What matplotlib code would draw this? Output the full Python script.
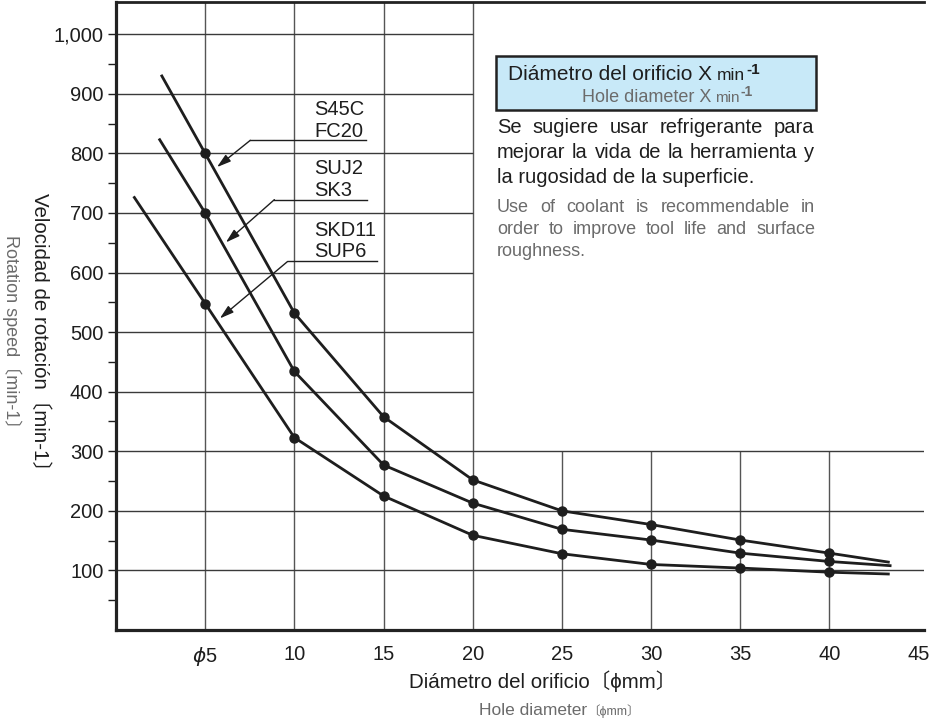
import matplotlib
matplotlib.use("Agg")
import matplotlib.pyplot as plt
from matplotlib.patches import Rectangle
from matplotlib.ticker import FixedLocator, FuncFormatter

plt.rcParams['font.family'] = ['Liberation Sans', 'DejaVu Sans', 'Noto Sans CJK JP']
plt.rcParams['mathtext.fontset'] = 'dejavusans'

# hole diameter (mm) -> rotation speed (min-1); first/last points are line ends without a dot
hole_s45c = [2.57, 5, 10, 15, 20, 25, 30, 35, 40, 43.3]
speed_s45c = [930, 800, 532, 358, 252, 200, 177, 151, 129, 114]
hole_suj2 = [2.45, 5, 10, 15, 20, 25, 30, 35, 40, 43.4]
speed_suj2 = [823, 700, 434, 277, 213, 169, 151, 129, 115, 108]
hole_skd11 = [1.03, 5, 10, 15, 20, 25, 30, 35, 40, 43.3]
speed_skd11 = [726, 548, 323, 225, 159, 128, 110, 104, 97, 94]

series_names = [["S45C", "FC20"], ["SUJ2", "SK3"], ["SKD11", "SUP6"]]

x_ticks = [5, 10, 15, 20, 25, 30, 35, 40, 45]
x_ticklabels = [r"$\phi$5", "10", "15", "20", "25", "30", "35", "40", "45"]
y_ticks = [100, 200, 300, 400, 500, 600, 700, 800, 900, 1000]
y_minor = [50, 150, 250, 350, 450, 550, 650, 750, 850, 950]

W, H = 937, 718
XMAX, YMAX = 45.3, 1055
SPLIT_X, SPLIT_Y = 20, 300   # grid is cut away above/right of this corner
INK = "#1e1e1e"
GRAY = "#6b6b6b"

fig = plt.figure(figsize=(W / 100, H / 100), dpi=100)
ax = fig.add_axes([116 / W, 1 - 630 / H, (924 - 116) / W, (630 - 1.5) / H])
ax.set_xlim(0, XMAX)
ax.set_ylim(0, YMAX)

# partial grid
for x in x_ticks[:-1]:
    ax.vlines(x, 0, YMAX if x <= SPLIT_X else SPLIT_Y, color="#555555", lw=1.0, zorder=1)
for y in y_ticks:
    ax.hlines(y, 0, XMAX if y <= SPLIT_Y else SPLIT_X, color="#3a3a3a", lw=1.0, zorder=1)

for xs, ys in [(hole_s45c, speed_s45c), (hole_suj2, speed_suj2), (hole_skd11, speed_skd11)]:
    ax.plot(xs, ys, color=INK, lw=2.0, marker="o", ms=6.5, markevery=slice(1, -1), zorder=3)

# material labels with leader arrows (data coords)
label_x = 11.12
label_lines_y = [(863.7, 827.2), (765.6, 729.1), (661.8, 625.3)]
leaders = [(822, 7.53, 14.03, (5.66, 777)),
           (722.4, 8.88, 14.1, (6.16, 650.6)),
           (618.6, 9.62, 14.66, (5.82, 523))]
for names, ly, (uy, ux0, ux1, tip) in zip(series_names, label_lines_y, leaders):
    for name, yy in zip(names, ly):
        ax.text(label_x, yy, name, fontsize=14.5, color=INK, va="baseline", zorder=4)
    ax.plot([ux0, ux1], [uy, uy], color=INK, lw=1.0, zorder=4)
    ax.annotate("", xy=tip, xytext=(ux0, uy),
                arrowprops=dict(arrowstyle="-|>,head_length=0.6,head_width=0.18",
                                mutation_scale=14, color=INK, lw=1.0,
                                shrinkA=0, shrinkB=0), zorder=4)

ax.set_xticks(x_ticks)
ax.set_xticklabels(x_ticklabels)
ax.set_yticks(y_ticks)
ax.yaxis.set_major_formatter(FuncFormatter(lambda v, p: f"{int(v):,}"))
ax.yaxis.set_minor_locator(FixedLocator(y_minor))
ax.tick_params(axis="x", length=0, pad=11, labelsize=14.5, colors=INK)
ax.tick_params(axis="y", which="both", direction="out", length=6, width=1.0,
               pad=3, labelsize=14.5, colors=INK)

for side in ["left", "bottom"]:
    ax.spines[side].set_linewidth(2.3)
    ax.spines[side].set_color("#222222")
ax.spines["top"].set_linewidth(2.0)
ax.spines["top"].set_color("#222222")
ax.spines["right"].set_visible(False)

renderer = fig.canvas.get_renderer()


def ftext(px, py, s, **kw):
    return fig.text(px / W, 1 - py / H, s, va="baseline", **kw)


def after(t, s, gap_px=0, dy_px=0, **kw):
    bb = t.get_window_extent(renderer)
    y = t.get_position()[1] + dy_px / H
    return fig.text((bb.x1 + gap_px) / W, y, s, va="baseline", **kw)


def justify(line, left, right, py, **kw):
    words = line.split()
    texts = [ftext(0, py, w, **kw) for w in words]
    widths = [t.get_window_extent(renderer).width for t in texts]
    gap = (right - left - sum(widths)) / max(len(words) - 1, 1)
    x = left
    for t, w in zip(texts, widths):
        t.set_x(x / W)
        x += w + gap


# axis titles
ftext(409, 688, "Diámetro del orificio〔ϕmm〕", fontsize=14.8, color=INK)
t = ftext(479, 715, "Hole diameter", fontsize=12.5, color=GRAY)
after(t, "〔ϕmm〕", gap_px=0, fontsize=9, color=GRAY)
fig.text(40 / W, 1 - 337 / H, "Velocidad de rotación〔min-1〕", rotation=-90,
         ha="center", va="center", fontsize=14.8, color=INK)
fig.text(12 / W, 1 - 336 / H, "Rotation speed〔min-1〕", rotation=-90,
         ha="center", va="center", fontsize=13, color=GRAY)

# note box
fig.patches.append(Rectangle((496 / W, 1 - 110 / H), 320 / W, 54 / H, transform=fig.transFigure,
                             facecolor="#c8e9f8", edgecolor="#222222", lw=1.8, zorder=5))
t = ftext(508, 80, "Diámetro del orificio X", fontsize=15, color=INK, zorder=6)
t = after(t, "min", gap_px=5, fontsize=12.5, color=INK, zorder=6)
after(t, "-1", gap_px=1, dy_px=6.5, fontsize=11, fontweight="bold", color=INK, zorder=6)
t = ftext(582, 101.7, "Hole diameter X", fontsize=13, color=GRAY, zorder=6)
t = after(t, "min", gap_px=4, fontsize=11, color=GRAY, zorder=6)
after(t, "-1", gap_px=1, dy_px=5.5, fontsize=10, fontweight="bold", color=GRAY, zorder=6)

note_es = ["Se sugiere usar refrigerante para",
           "mejorar la vida de la herramienta y",
           "la rugosidad de la superficie."]
note_en = ["Use of coolant is recommendable in",
           "order to improve tool life and surface",
           "roughness."]
for i, (line, py) in enumerate(zip(note_es, [133.3, 158.3, 183.3])):
    if i < len(note_es) - 1:
        justify(line, 497, 814, py, fontsize=14.5, color=INK)
    else:
        ftext(497, py, line, fontsize=14.5, color=INK)
for i, (line, py) in enumerate(zip(note_en, [211.7, 234.3, 256])):
    if i < len(note_en) - 1:
        justify(line, 497, 815, py, fontsize=13, color=GRAY)
    else:
        ftext(497, py, line, fontsize=13, color=GRAY)

fig.savefig("out.png", dpi=100)
